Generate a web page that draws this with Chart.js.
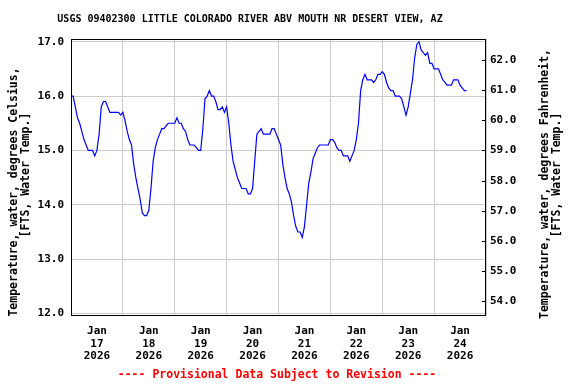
<!DOCTYPE html>
<html>
<head>
<meta charset="utf-8">
<script src="https://cdn.jsdelivr.net/npm/chart.js@4.4.1/dist/chart.umd.min.js"></script>
<style>
  html, body { margin: 0; padding: 0; background: #fff; }
</style>
</head>
<body>
<canvas id="chart" width="576" height="384"></canvas>
<script>
// chart text
const chartTitle = 'USGS 09402300 LITTLE COLORADO RIVER ABV MOUTH NR DESERT VIEW, AZ';
const leftTitle = ['Temperature, water, degrees Celsius,', '[FTS, Water Temp.]'];
const rightTitle = ['Temperature, water, degrees Fahrenheit,', '[FTS, Water Temp.]'];
const footerText = '---- Provisional Data Subject to Revision ----';

// x ticks: one label per day, placed at noon
const tickMonth = 'Jan';
const tickDays = ['17', '18', '19', '20', '21', '22', '23', '24'];
const tickYear = '2026';

const celsiusTicks = [12, 13, 14, 15, 16, 17];
const fahrenheitTicks = [54, 55, 56, 57, 58, 59, 60, 61, 62];

// hourly water temperature (deg C) starting Jan 17 2026 00:00
const tempC = [
  16.0, 16.0, 15.8, 15.6, 15.5, 15.35, 15.2, 15.1, 15.0, 15.0, 15.0, 14.9,
  15.0, 15.3, 15.8, 15.9, 15.9, 15.8, 15.7, 15.7, 15.7, 15.7, 15.7, 15.65,
  15.7, 15.55, 15.35, 15.2, 15.1, 14.75, 14.5, 14.3, 14.1, 13.85, 13.8, 13.8,
  13.9, 14.3, 14.8, 15.05, 15.2, 15.3, 15.4, 15.4, 15.45, 15.5, 15.5, 15.5,
  15.5, 15.6, 15.5, 15.5, 15.4, 15.35, 15.2, 15.1, 15.1, 15.1, 15.05, 15.0,
  15.0, 15.4, 15.95, 16.0, 16.1, 16.0, 16.0, 15.9, 15.75, 15.75, 15.8, 15.7,
  15.8, 15.5, 15.1, 14.8, 14.65, 14.5, 14.4, 14.3, 14.3, 14.3, 14.2, 14.2,
  14.3, 14.8, 15.3, 15.35, 15.4, 15.3, 15.3, 15.3, 15.3, 15.4, 15.4,
  15.3, 15.2, 15.1, 14.75, 14.5, 14.3, 14.2, 14.05, 13.8, 13.6, 13.5, 13.5,
  13.4, 13.6, 14.0, 14.4, 14.6, 14.85, 14.95, 15.05, 15.1, 15.1, 15.1, 15.1,
  15.1, 15.2, 15.2, 15.15, 15.05, 15.0, 15.0, 14.9, 14.9, 14.9, 14.8, 14.9,
  15.0, 15.2, 15.5,
  16.1, 16.3, 16.4, 16.3, 16.3, 16.3, 16.25, 16.3, 16.4, 16.4, 16.45, 16.4,
  16.25, 16.15, 16.1, 16.1, 16.0, 16.0, 16.0, 15.95, 15.8, 15.65, 15.8, 16.05,
  16.3, 16.7, 16.95, 17.0, 16.85, 16.8, 16.75, 16.8, 16.6, 16.6, 16.5, 16.5,
  16.5, 16.4, 16.3, 16.25, 16.2, 16.2, 16.2, 16.3, 16.3, 16.3, 16.2, 16.15,
  16.1, 16.1
];

const yMin = 11.955, yMax = 17.05;
const toF = c => c * 1.8 + 32;

const FONT = '"DejaVu Sans Mono", "Liberation Mono", monospace';

const points = tempC.map((t, i) => ({ x: i, y: t }));

// title, footer, axis titles, frame and inner ticks on right axis
const decorPlugin = {
  id: 'decor',
  afterDraw(chart) {
    const { ctx, chartArea: a } = chart;
    ctx.save();
    ctx.fillStyle = '#000';
    ctx.textAlign = 'center';
    ctx.textBaseline = 'middle';
    ctx.font = 'bold 10px ' + FONT;
    ctx.fillText(chartTitle, 250, 19);

    ctx.font = 'bold 11.5px ' + FONT;
    const drawRot = (lines, xs, ys) => {
      lines.forEach((line, i) => {
        ctx.save();
        ctx.translate(xs[i], ys[i]);
        ctx.rotate(-Math.PI / 2);
        ctx.fillText(line, 0, 0);
        ctx.restore();
      });
    };
    drawRot(leftTitle, [14, 26], [192, 175]);
    drawRot(rightTitle, [545, 557], [184, 175]);

    ctx.fillStyle = '#ff0000';
    ctx.fillText(footerText, 277, 375);

    // frame
    ctx.strokeStyle = '#000';
    ctx.lineWidth = 1;
    ctx.strokeRect(Math.round(a.left) + 0.5, Math.round(a.top) + 0.5,
      Math.round(a.right - a.left) - 1, Math.round(a.bottom - a.top) - 1);

    // short inward ticks for Fahrenheit axis
    const y2 = chart.scales.y2;
    ctx.beginPath();
    fahrenheitTicks.forEach(f => {
      const py = Math.round(y2.getPixelForValue(f)) + 0.5;
      ctx.moveTo(a.right - 4, py);
      ctx.lineTo(a.right, py);
    });
    ctx.stroke();
    ctx.restore();
  }
};

new Chart(document.getElementById('chart'), {
  type: 'line',
  data: {
    datasets: [{
      data: points,
      borderColor: '#0000ff',
      borderWidth: 1.2,
      pointRadius: 0,
      tension: 0,
      fill: false
    }]
  },
  options: {
    responsive: false,
    animation: false,
    layout: { padding: { top: 39, bottom: 18, left: 0, right: 0 } },
    plugins: {
      legend: { display: false },
      tooltip: { enabled: false }
    },
    scales: {
      x: {
        type: 'linear',
        min: 0,
        max: tickDays.length * 24,
        afterBuildTicks: s => {
          const t = [];
          for (let v = 0; v <= tickDays.length * 24; v += 12) t.push({ value: v });
          s.ticks = t;
        },
        afterFit: s => { s.height = 50; },
        grid: {
          drawTicks: false,
          color: c => (c.tick && c.tick.value % 24 === 0) ? '#cccccc' : 'rgba(0,0,0,0)',
          lineWidth: 1
        },
        border: { display: false },
        ticks: {
          autoSkip: false,
          maxRotation: 0,
          padding: 9,
          color: '#000',
          font: { family: FONT, size: 11, weight: 'bold', lineHeight: 1.15 },
          callback: v => {
            if (v % 24 !== 12) return '';
            return [tickMonth, tickDays[(v - 12) / 24], tickYear];
          }
        }
      },
      y: {
        position: 'left',
        min: yMin,
        max: yMax,
        afterBuildTicks: s => { s.ticks = celsiusTicks.map(v => ({ value: v })); },
        afterFit: s => { s.width = 71; },
        grid: { drawTicks: false, color: '#cccccc', lineWidth: 1 },
        border: { display: false },
        ticks: {
          padding: 7,
          color: '#000',
          font: { family: FONT, size: 11, weight: 'bold' },
          callback: v => v.toFixed(1)
        }
      },
      y2: {
        position: 'right',
        min: toF(yMin),
        max: toF(yMax),
        afterBuildTicks: s => { s.ticks = fahrenheitTicks.map(v => ({ value: v })); },
        afterFit: s => { s.width = 90; },
        grid: { display: false, drawTicks: false },
        border: { display: false },
        ticks: {
          padding: 4,
          color: '#000',
          font: { family: FONT, size: 11, weight: 'bold' },
          callback: v => v.toFixed(1)
        }
      }
    }
  },
  plugins: [decorPlugin]
});
</script>
</body>
</html>
